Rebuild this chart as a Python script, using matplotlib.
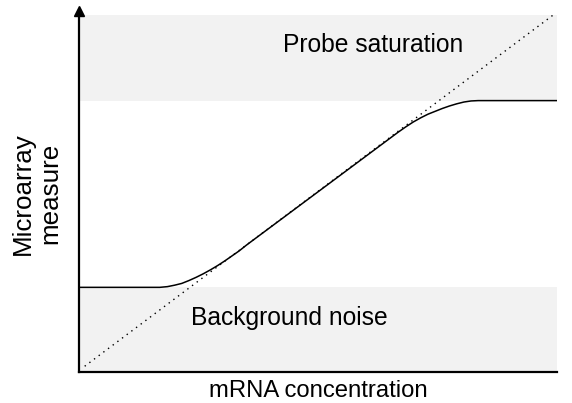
import matplotlib
matplotlib.use('Agg')
import matplotlib.pyplot as plt

plt.rcParams['font.family'] = ['Liberation Sans', 'DejaVu Sans']

# curve points (concentration, measure), both on a 0-100 scale
conc = [0, 16.9, 18.5, 20.0, 21.5, 23.0, 24.5, 26.0, 27.5, 29.0, 30.5, 32.0,
        33.5, 35.0, 36.5, 66.7, 68.3, 69.9, 71.5, 73.0, 74.5, 76.0, 77.5,
        79.0, 80.5, 82.0, 83.5, 100]
measure = [23.7, 23.7, 23.9, 24.3, 24.8, 25.6, 26.5, 27.5, 28.6, 29.8, 31.1, 32.5,
           33.9, 35.5, 37.0, 67.1, 68.6, 70.0, 71.2, 72.2, 73.0, 73.8, 74.5,
           75.1, 75.6, 75.9, 76.0, 76.0]

# ideal (linear) response
ideal_x = [1.2, 99.2]
ideal_y = [1.6, 100]

# shaded regions
noise_band = (0, 23.8)
saturation_band = (76.0, 100)

fig = plt.figure(figsize=(5.72, 4.03), dpi=100)
ax = fig.add_axes([0.138, 0.077, 0.836, 0.886])

ax.axhspan(*saturation_band, color='#f2f2f2', lw=0, zorder=0)
ax.axhspan(*noise_band, color='#f2f2f2', lw=0, zorder=0)

ax.plot(ideal_x, ideal_y, color='black', lw=1.0, dashes=(1, 3.2))
ax.plot(conc, measure, color='black', lw=1.1, solid_joinstyle='round')

ax.text(61.5, 91.5, 'Probe saturation', ha='center', va='center', fontsize=17.7)
ax.text(44.0, 15.2, 'Background noise', ha='center', va='center', fontsize=17.7)

ax.set_xlim(0, 100)
ax.set_ylim(0, 100)
ax.set_xticks([])
ax.set_yticks([])
for s in ['top', 'right']:
    ax.spines[s].set_visible(False)
for s in ['left', 'bottom']:
    ax.spines[s].set_linewidth(1.6)

# arrow head on the y axis
ax.plot([0], [101.2], marker='^', color='black', markersize=7, clip_on=False)

ax.set_xlabel('mRNA concentration', fontsize=17.2, labelpad=6)
ax.set_ylabel('Microarray\nmeasure', fontsize=18.7, labelpad=12)

fig.savefig('out.png', dpi=100)
